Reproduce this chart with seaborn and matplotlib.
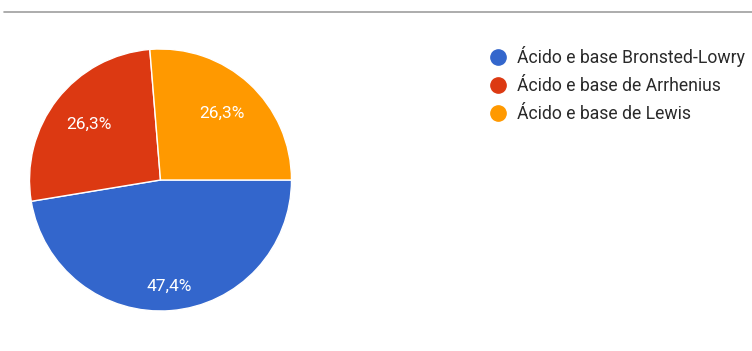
import matplotlib
matplotlib.use("Agg")
import matplotlib.pyplot as plt
from matplotlib.lines import Line2D
import seaborn as sns

categories = ["Ácido e base Bronsted-Lowry", "Ácido e base de Arrhenius", "Ácido e base de Lewis"]
values = [47.4, 26.3, 26.3]
colors = ["#3366cc", "#dc3912", "#ff9900"]

sns.set_theme(style="white")
plt.rcParams["font.family"] = ["Roboto", "DejaVu Sans"]

fig = plt.figure(figsize=(7.52, 3.51), dpi=100)
fig.patch.set_facecolor("white")

# top separator line
fig.add_artist(Line2D([4 / 752, 1.0], [1 - 12 / 351, 1 - 12 / 351],
                      color="#9e9e9e", lw=1.2, transform=fig.transFigure))

ax = fig.add_axes([(160.5 - 131) / 752, (351 - 180 - 131) / 351, 262 / 752, 262 / 351])
wedges, texts, autotexts = ax.pie(
    values, colors=colors, startangle=0, counterclock=False,
    autopct=lambda p: f"{p:.1f}%".replace(".", ","), pctdistance=0.69,
    wedgeprops=dict(edgecolor="white", linewidth=1),
    textprops=dict(color="white", fontsize=12.5),
)
# largest slice label sits a bit further out
x, y = autotexts[0].get_position()
autotexts[0].set_position((x * 1.18, y * 1.18))
ax.set_xlim(-1, 1)
ax.set_ylim(-1, 1)
ax.set_aspect("equal")

handles = [Line2D([], [], marker="o", linestyle="none", markersize=11,
                  markerfacecolor=c, markeredgecolor=c) for c in colors]
fig.legend(handles, categories, loc="upper left", bbox_to_anchor=(489 / 752, 1 - 46 / 351),
           frameon=False, fontsize=12.7, handlelength=1.0, handletextpad=0.6,
           labelspacing=0.57, borderpad=0, borderaxespad=0, labelcolor="#2a2a2a")

fig.savefig("out.png", dpi=100, facecolor="white")
